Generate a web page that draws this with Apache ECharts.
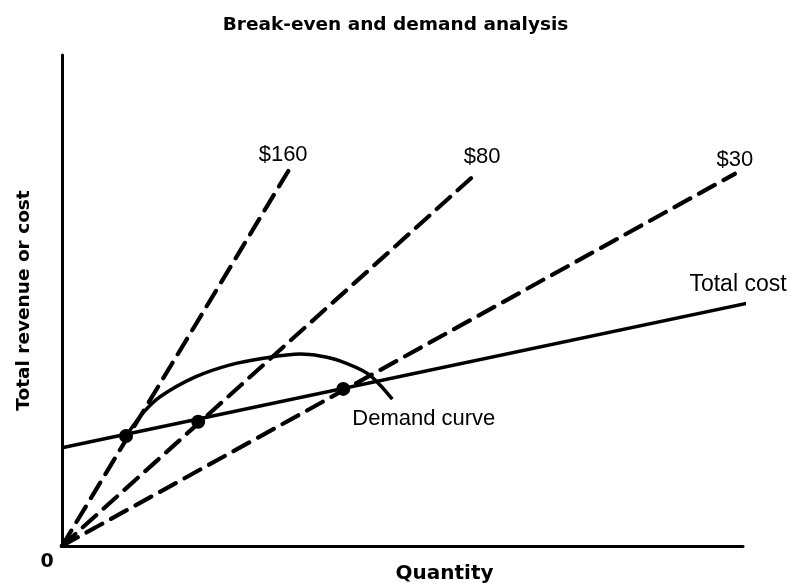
<!DOCTYPE html>
<html>
<head>
<meta charset="utf-8">
<script src="https://cdn.jsdelivr.net/npm/echarts@6/dist/echarts.min.js"></script>
<style>
html,body{margin:0;padding:0;background:#fff;}
#chart{width:791px;height:583px;}
</style>
</head>
<body>
<div id="chart"></div>
<script>
// ---- data (quantity 0..100, revenue/cost 0..100) ----
const priceLabels = ['$160', '$80', '$30'];
const revenueEndQty = [33.5, 61.1, 98.8];
const revenueEndVal = [77.0, 76.2, 75.8];
const totalCostQty = [0, 101.5];
const totalCostVal = [20.0, 49.7];
const demandQty = [9.4, 11.9, 14.4, 19.5, 24.7, 29.8, 35.0, 37.9, 40.8, 44.8, 46.7, 48.5];
const demandVal = [22.4, 27.1, 30.4, 34.4, 36.9, 38.3, 39.1, 38.7, 37.7, 35.2, 32.8, 29.9];
const breakEvenQty = [9.4, 20.0, 41.3];
const breakEvenVal = [22.4, 25.3, 32.0];

const FONT = '"Liberation Sans", Arial, Helvetica, sans-serif';
const BOLD_FONT = '"DejaVu Sans", sans-serif';
const INK = '#000';

const labelOffsets = [[-7, -13], [4, -15], [0, -14]];

const revenueSeries = priceLabels.map((name, i) => ({
  name: name,
  type: 'line',
  symbol: 'none',
  silent: true,
  data: [[0, 0], [revenueEndQty[i], revenueEndVal[i]]],
  lineStyle: { color: INK, width: 4.2, type: [18, 10], cap: 'round' },
  endLabel: {
    show: true, formatter: name, distance: 0,
    align: 'center', verticalAlign: 'middle', offset: labelOffsets[i],
    color: INK, fontFamily: FONT, fontSize: 22
  },
  z: 3
}));

const chart = echarts.init(document.getElementById('chart'));
chart.setOption({
  backgroundColor: '#fff',
  animation: false,
  title: {
    text: 'Break-even and demand analysis',
    left: 'center', top: 11,
    textStyle: { fontFamily: BOLD_FONT, fontWeight: 'bold', fontSize: 18.5, color: INK }
  },
  grid: { left: 62, right: 48, top: 55, bottom: 37, containLabel: false, outerBoundsMode: 'none' },
  xAxis: {
    type: 'value', min: 0, max: 100,
    name: 'Quantity', nameLocation: 'middle', nameGap: 18, nameMoveOverlap: false,
    nameTextStyle: { fontFamily: BOLD_FONT, fontWeight: 'bold', fontSize: 20, color: INK, padding: [0, 0, 0, 84] },
    axisLine: { show: true, lineStyle: { color: INK, width: 3 } },
    axisTick: { show: false },
    splitLine: { show: false },
    axisLabel: {
      show: true, showMinLabel: true, showMaxLabel: false,
      formatter: v => (v === 0 ? '0' : ''),
      margin: 7, padding: [0, 30, 0, 0],
      fontFamily: BOLD_FONT, fontWeight: 'bold', fontSize: 19, color: INK
    }
  },
  yAxis: {
    type: 'value', min: 0, max: 100,
    name: 'Total revenue or cost', nameLocation: 'middle', nameGap: 28, nameRotate: 90,
    nameTextStyle: { fontFamily: BOLD_FONT, fontWeight: 'bold', fontSize: 18.5, color: INK },
    axisLine: { show: true, onZero: false, lineStyle: { color: INK, width: 3 } },
    axisTick: { show: false },
    splitLine: { show: false },
    axisLabel: { show: false }
  },
  series: revenueSeries.concat([
    {
      name: 'Total cost', type: 'line', symbol: 'none', silent: true, clip: false,
      data: totalCostQty.map((q, i) => [q, totalCostVal[i]]),
      lineStyle: { color: INK, width: 3.5 },
      endLabel: {
        show: true, formatter: 'Total cost', distance: 0,
        align: 'center', verticalAlign: 'middle', offset: [-8, -19],
        color: INK, fontFamily: FONT, fontSize: 23
      },
      z: 4
    },
    {
      name: 'Demand curve', type: 'line', symbol: 'none', silent: true, smooth: 0.3,
      data: demandQty.map((q, i) => [q, demandVal[i]]),
      lineStyle: { color: INK, width: 3.5 },
      endLabel: {
        show: true, formatter: 'Demand curve', distance: 0,
        align: 'left', verticalAlign: 'middle', offset: [-40, 20],
        color: INK, fontFamily: FONT, fontSize: 22
      },
      z: 4
    },
    {
      name: 'Break-even', type: 'scatter', silent: true,
      symbol: 'circle', symbolSize: 14,
      itemStyle: { color: INK, opacity: 1 },
      data: breakEvenQty.map((q, i) => [q, breakEvenVal[i]]),
      z: 5
    }
  ])
});
</script>
</body>
</html>
